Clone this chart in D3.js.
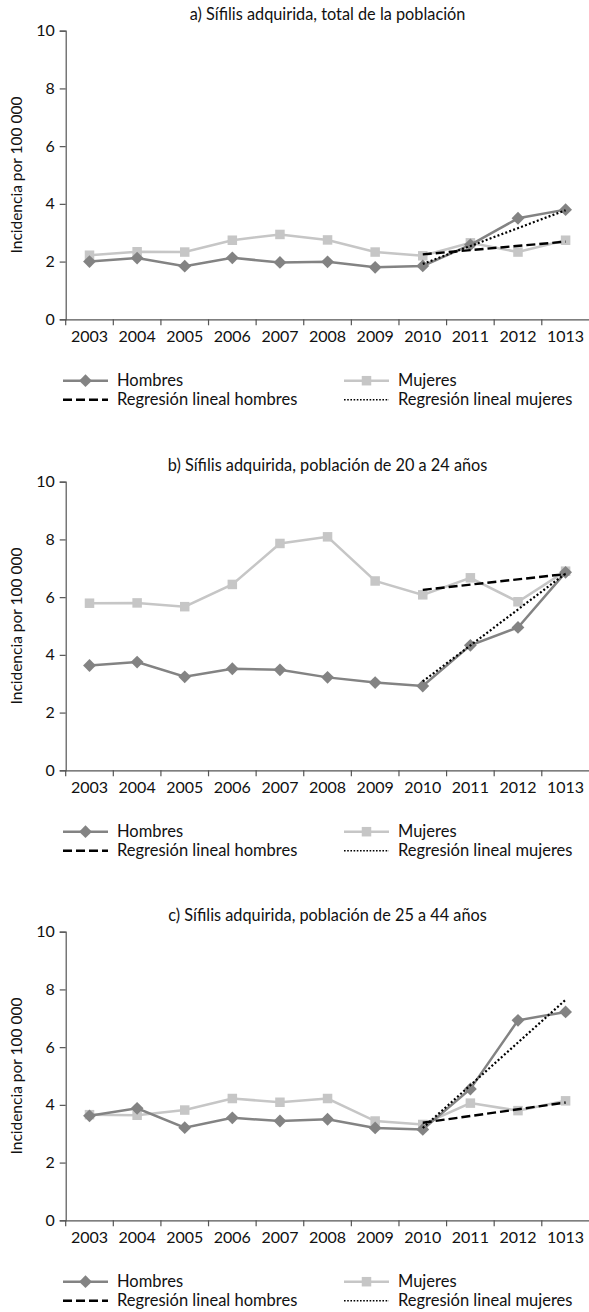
<!DOCTYPE html>
<html><head><meta charset="utf-8">
<script src="https://cdn.jsdelivr.net/npm/d3@7"></script>
<style>
html,body{margin:0;padding:0;background:#fff;}
svg{display:block;font-family:Lato, "Open Sans", sans-serif;}
</style></head>
<body>
<svg id="c" width="589" height="1312"></svg>
<script>
const years = ["2003","2004","2005","2006","2007","2008","2009","2010","2011","2012","1013"];
const yTicks = [0, 2, 4, 6, 8, 10];
const titles = [
  "a) Sífilis adquirida, total de la población",
  "b) Sífilis adquirida, población de 20 a 24 años",
  "c) Sífilis adquirida, población de 25 a 44 años"
];
const yLabel = "Incidencia por 100 000";
const legendLabels = ["Hombres", "Mujeres", "Regresión lineal hombres", "Regresión lineal mujeres"];

// Panel a
const hombresA = [2.0, 2.12, 1.84, 2.13, 1.97, 1.99, 1.80, 1.85, 2.58, 3.50, 3.80];
const mujeresA = [2.22, 2.34, 2.33, 2.74, 2.94, 2.75, 2.33, 2.20, 2.65, 2.33, 2.74];
const regHombresA = [2.25, 2.69];   // dashed, 2010 -> 2013
const regMujeresA = [1.92, 3.78];   // dotted, 2010 -> 2013
// Panel b
const hombresB = [3.63, 3.75, 3.24, 3.52, 3.48, 3.22, 3.04, 2.92, 4.33, 4.95, 6.86];
const mujeresB = [5.79, 5.80, 5.67, 6.44, 7.86, 8.09, 6.56, 6.08, 6.67, 5.84, 6.90];
const regHombresB = [6.25, 6.80];
const regMujeresB = [3.08, 6.82];
// Panel c
const hombresC = [3.62, 3.88, 3.21, 3.55, 3.44, 3.50, 3.20, 3.15, 4.55, 6.93, 7.22];
const mujeresC = [3.66, 3.64, 3.82, 4.22, 4.09, 4.22, 3.44, 3.32, 4.06, 3.80, 4.14];
const regHombresC = [3.38, 4.08];
const regMujeresC = [3.20, 7.64];

const panels = [
  {title: titles[0], h: hombresA, m: mujeresA, rh: regHombresA, rm: regMujeresA, top: 30.7},
  {title: titles[1], h: hombresB, m: mujeresB, rh: regHombresB, rm: regMujeresB, top: 481.7},
  {title: titles[2], h: hombresC, m: mujeresC, rh: regHombresC, rm: regMujeresC, top: 931.7}
];

const svg = d3.select("#c");
const left = 65.7, right = 589.4, plotH = 288.6;
const colH = "#838383", colM = "#c6c6c6", axisCol = "#555";
const x = d3.scaleBand().domain(years).range([left, right]).paddingInner(0).paddingOuter(0);
const cx = d => x(d) + x.bandwidth() / 2;
const regYears = [years[7], years[10]];

const diamond = d3.symbol().type(d3.symbolDiamond2).size(105);
const square = d3.symbol().type(d3.symbolSquare2).size(115);

function drawPanel(p) {
  const g = svg.append("g");
  const y = d3.scaleLinear().domain([0, 10]).range([p.top + plotH, p.top]);
  const y0 = y(0);

  g.append("text").attr("x", (left + right) / 2).attr("y", p.top - 11)
    .attr("text-anchor", "middle").attr("font-size", 16.3).attr("fill", "#111").text(p.title);

  // y axis
  const ya = d3.axisLeft(y).tickValues(yTicks).tickSize(6).tickPadding(5).tickFormat(d3.format("d"));
  const yg = g.append("g").attr("transform", `translate(${left},0)`).call(ya);
  yg.select(".domain").attr("stroke", axisCol).attr("stroke-width", 1.2);
  yg.selectAll(".tick line").attr("stroke", axisCol).attr("stroke-width", 1.2);
  yg.selectAll(".tick text").attr("font-size", 16).attr("fill", "#111").attr("font-family", "Lato, sans-serif");

  // x axis (labels centered, ticks at boundaries)
  const xa = d3.axisBottom(x).tickSize(0).tickPadding(11);
  const xg = g.append("g").attr("transform", `translate(0,${y0})`).call(xa);
  xg.select(".domain").attr("stroke", axisCol).attr("stroke-width", 1.2);
  xg.selectAll(".tick text").attr("font-size", 16).attr("fill", "#111").attr("font-family", "Lato, sans-serif");
  g.selectAll(".xb").data(years.slice(0)).join("line").attr("class", "xb")
    .attr("x1", d => x(d)).attr("x2", d => x(d))
    .attr("y1", y0).attr("y2", y0 + 6).attr("stroke", axisCol).attr("stroke-width", 1.2);

  // y label
  g.append("text").attr("transform", `translate(22,${p.top + plotH / 2}) rotate(-90)`)
    .attr("text-anchor", "middle").attr("font-size", 15.5).attr("fill", "#111").text(yLabel);

  const line = d3.line().x((d, i) => cx(years[i])).y(d => y(d));

  // Mujeres
  g.append("path").datum(p.m).attr("d", line).attr("fill", "none").attr("stroke", colM).attr("stroke-width", 2.5);
  g.selectAll(".ms").data(p.m).join("path").attr("class", "ms")
    .attr("d", square).attr("transform", (d, i) => `translate(${cx(years[i])},${y(d)})`).attr("fill", colM);
  // Hombres
  g.append("path").datum(p.h).attr("d", line).attr("fill", "none").attr("stroke", colH).attr("stroke-width", 2.5);
  g.selectAll(".hs").data(p.h).join("path").attr("class", "hs")
    .attr("d", diamond).attr("transform", (d, i) => `translate(${cx(years[i])},${y(d)})`).attr("fill", colH);

  // regressions
  const rl = d3.line().x((d, i) => cx(regYears[i])).y(d => y(d));
  g.append("path").datum(p.rh).attr("d", rl).attr("fill", "none").attr("stroke", "#000")
    .attr("stroke-width", 2.4).attr("stroke-dasharray", "9,4");
  g.append("path").datum(p.rm).attr("d", rl).attr("fill", "none").attr("stroke", "#000")
    .attr("stroke-width", 2.2).attr("stroke-dasharray", "2,2.2");

  // legend
  const r1 = p.top + 350, r2 = p.top + 369;
  const lg = g.append("g");
  const items = [
    {x0: 63, x1: 108, y: r1, stroke: colH, w: 2.5, dash: null, sym: diamond, label: legendLabels[0]},
    {x0: 344, x1: 389, y: r1, stroke: colM, w: 2.5, dash: null, sym: square, label: legendLabels[1]},
    {x0: 63, x1: 108, y: r2, stroke: "#000", w: 2.4, dash: "9,4", sym: null, label: legendLabels[2]},
    {x0: 344, x1: 389, y: r2, stroke: "#000", w: 1.6, dash: "1.6,1.6", sym: null, label: legendLabels[3]}
  ];
  items.forEach(it => {
    lg.append("line").attr("x1", it.x0).attr("x2", it.x1).attr("y1", it.y).attr("y2", it.y)
      .attr("stroke", it.stroke).attr("stroke-width", it.w).attr("stroke-dasharray", it.dash);
    if (it.sym) lg.append("path").attr("d", it.sym).attr("transform", `translate(${(it.x0 + it.x1) / 2},${it.y})`).attr("fill", it.stroke);
    lg.append("text").attr("x", it.x1 + 9).attr("y", it.y).attr("dy", "0.35em")
      .attr("font-size", 16.5).attr("fill", "#111").text(it.label);
  });
}
panels.forEach(drawPanel);
</script>
</body></html>
